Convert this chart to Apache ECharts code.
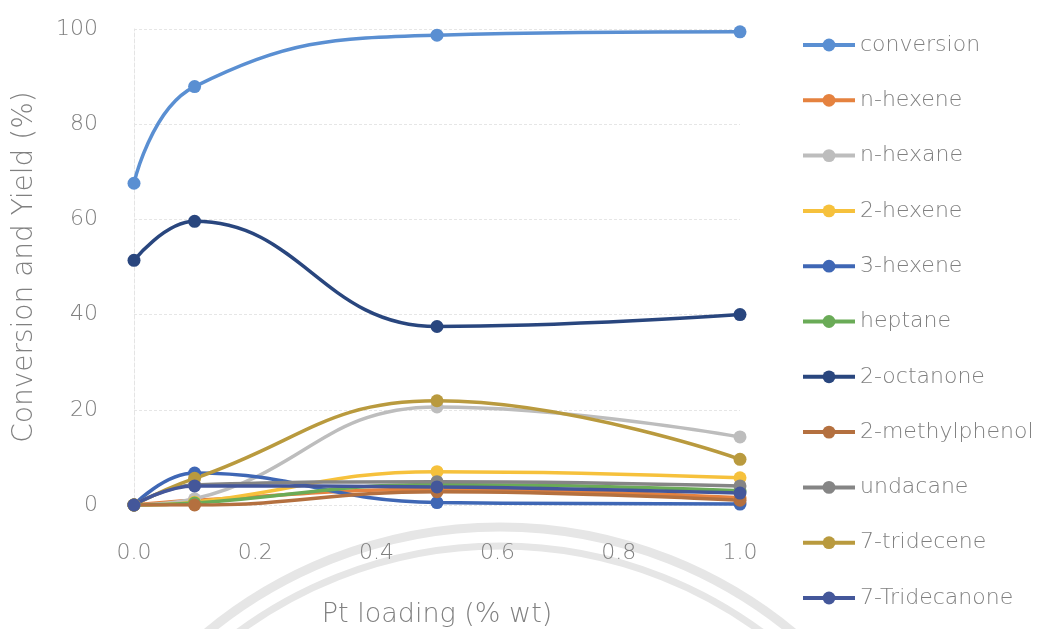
<!DOCTYPE html>
<html>
<head>
<meta charset="utf-8">
<script src="https://cdn.jsdelivr.net/npm/echarts@6/dist/echarts.min.js"></script>
<style>
  html, body { margin: 0; padding: 0; background: #ffffff; }
  #chart { width: 1042px; height: 629px; }
</style>
</head>
<body>
<div id="chart"></div>
<script>
// Pt loading (% wt)
const ptLoading = [0.0, 0.1, 0.5, 1.0];

// Conversion and product yields (%)
const conversion     = [67.6, 87.9, 98.7, 99.4];
const nHexene        = [0.0, 1.0, 3.3, 1.5];
const nHexane        = [0.0, 1.3, 20.6, 14.3];
const hexene2        = [0.0, 0.6, 7.0, 5.7];
const hexene3        = [0.0, 6.7, 0.5, 0.2];
const heptane        = [0.0, 0.4, 4.3, 3.0];
const octanone2      = [51.4, 59.6, 37.5, 40.0];
const methylphenol2  = [0.0, 0.0, 2.8, 1.0];
const undacane       = [0.0, 4.2, 4.9, 4.0];
const tridecene7     = [0.0, 5.6, 21.9, 9.6];
const tridecanone7   = [0.0, 4.0, 3.8, 2.5];

const xTicks = [0.0, 0.2, 0.4, 0.6, 0.8, 1.0];
const yTicks = [0, 20, 40, 60, 80, 100];

const seriesDefs = [
  { name: 'conversion',     values: conversion,    color: '#5a8fd2' },
  { name: 'n-hexene',       values: nHexene,       color: '#e5823f' },
  { name: 'n-hexane',       values: nHexane,       color: '#bdbdbd' },
  { name: '2-hexene',       values: hexene2,       color: '#f6c13c' },
  { name: '3-hexene',       values: hexene3,       color: '#3f67b5' },
  { name: 'heptane',        values: heptane,       color: '#6aab57' },
  { name: '2-octanone',     values: octanone2,     color: '#29467e' },
  { name: '2-methylphenol', values: methylphenol2, color: '#b4703f' },
  { name: 'undacane',       values: undacane,      color: '#858585' },
  { name: '7-tridecene',    values: tridecene7,    color: '#b99a3e' },
  { name: '7-Tridecanone',  values: tridecanone7,  color: '#44579a' }
];

const textColor = '#808080';
const fontFamily = '"DejaVu Sans", "Open Sans", sans-serif';
const fontWeight = 200;

const chart = echarts.init(document.getElementById('chart'), null, { renderer: 'canvas' });

// faint circular emblem behind the lower part of the chart
const emblem = [
  { r: 460, w: 9 },
  { r: 441, w: 7 }
].map(a => ({
  type: 'arc',
  silent: true,
  z: -10,
  shape: { cx: 500, cy: 987, r: a.r, startAngle: Math.PI, endAngle: 2 * Math.PI },
  style: { stroke: '#e6e6e6', lineWidth: a.w, fill: null }
}));

chart.setOption({
  backgroundColor: '#ffffff',
  animation: false,
  textStyle: { fontFamily: fontFamily, fontWeight: fontWeight },
  graphic: emblem,
  grid: { left: 134, right: 302, top: 29, bottom: 124, containLabel: false, outerBoundsMode: 'none' },
  legend: {
    orient: 'vertical',
    left: 796,
    top: 29,
    itemWidth: 52,
    itemHeight: 16,
    itemGap: 33.3,
    lineStyle: { width: 4 },
    textStyle: { color: textColor, fontSize: 22, fontFamily: fontFamily, fontWeight: fontWeight },
    data: seriesDefs.map(s => s.name)
  },
  xAxis: {
    type: 'value',
    min: 0,
    max: 1,
    interval: 0.2,
    name: 'Pt loading (% wt)',
    nameLocation: 'middle',
    nameGap: 96,
    nameTextStyle: { color: textColor, fontSize: 27, fontFamily: fontFamily, fontWeight: fontWeight },
    axisLine: { show: false },
    axisTick: { show: false },
    splitLine: { show: false },
    axisLabel: {
      color: textColor, fontSize: 22, margin: 37, fontWeight: fontWeight,
      formatter: v => xTicks.some(t => Math.abs(t - v) < 1e-9) ? v.toFixed(1) : ''
    }
  },
  yAxis: {
    type: 'value',
    min: yTicks[0],
    max: yTicks[yTicks.length - 1],
    interval: 20,
    name: 'Conversion and Yield (%)',
    nameLocation: 'middle',
    nameGap: 95,
    nameTextStyle: { color: textColor, fontSize: 28, fontFamily: fontFamily, fontWeight: fontWeight },
    axisLine: { show: true, lineStyle: { color: '#e4e4e4', width: 1, type: 'dashed' } },
    axisTick: { show: false },
    axisLabel: { color: textColor, fontSize: 22, margin: 36, fontWeight: fontWeight },
    splitLine: { show: true, lineStyle: { color: '#e6e6e6', width: 1, type: [3, 2] } }
  },
  series: seriesDefs.map(s => ({
    name: s.name,
    type: 'line',
    smooth: 0.45,
    data: ptLoading.map((x, i) => [x, s.values[i]]),
    symbol: 'circle',
    symbolSize: 13,
    lineStyle: { width: 3.5, color: s.color },
    itemStyle: { color: s.color },
    emphasis: { disabled: true }
  }))
});
</script>
</body>
</html>
